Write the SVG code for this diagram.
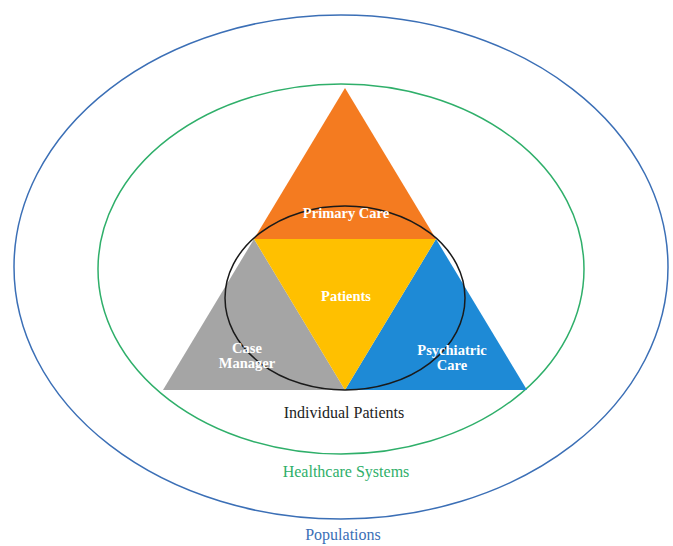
<svg xmlns="http://www.w3.org/2000/svg" width="673" height="546" viewBox="0 0 673 546">
  <style>
    .lbl { font-family: "Liberation Serif", "Times New Roman", serif; text-anchor: middle; }
    .in { fill: #ffffff; font-size: 14.5px; font-weight: bold; }
    .out { font-size: 16px; }
    .ring { fill: none; stroke-width: 1.5; }
  </style>
  <rect width="673" height="546" fill="#ffffff"/>

  <g id="populations">
    <ellipse class="ring" cx="341" cy="267" rx="327" ry="252" stroke="#3B6FB6"/>
    <text class="lbl out" x="343" y="540" fill="#3B6FB6">Populations</text>
  </g>

  <g id="healthcare-systems">
    <ellipse class="ring" cx="341" cy="269" rx="243" ry="185" stroke="#2FAF6A"/>
    <text class="lbl out" x="346" y="477" fill="#2FAF6A">Healthcare Systems</text>
  </g>

  <!-- four sub-triangles of the care triangle -->
  <g id="primary-care">
    <polygon points="345,88 254,239 436,239" fill="#F47B20"/>
  </g>
  <g id="case-manager">
    <polygon points="254,239 163,390 345,390" fill="#A5A5A5"/>
  </g>
  <g id="psychiatric-care">
    <polygon points="436,239 527,390 345,390" fill="#1E8AD6"/>
  </g>
  <g id="patients">
    <polygon points="254,239 436,239 345,390" fill="#FFC000"/>
  </g>

  <g id="individual-patients">
    <ellipse cx="345" cy="298" rx="120" ry="92" fill="none" stroke="#1a1a1a" stroke-width="1.5"/>
    <text class="lbl out" x="344" y="418" fill="#222222">Individual Patients</text>
  </g>

  <!-- labels drawn over the ring -->
  <g id="care-labels">
    <text class="lbl in" x="346" y="218">Primary Care</text>
    <text class="lbl in" x="346" y="301">Patients</text>
    <text class="lbl in" x="247" y="353">Case</text>
    <text class="lbl in" x="247" y="368">Manager</text>
    <text class="lbl in" x="452" y="355">Psychiatric</text>
    <text class="lbl in" x="452" y="370">Care</text>
  </g>
</svg>
